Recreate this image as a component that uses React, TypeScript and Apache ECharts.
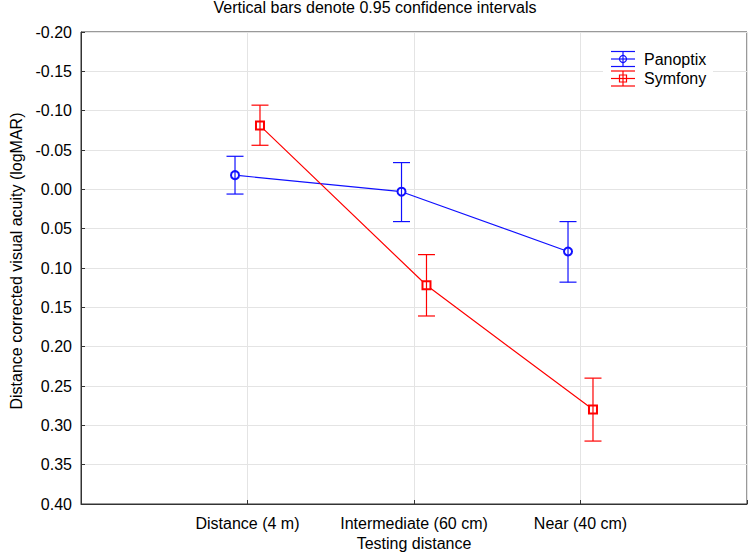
import React, { useEffect, useRef } from "react";
import * as echarts from "echarts";

const categories = ["Distance (4 m)", "Intermediate (60 cm)", "Near (40 cm)"];
const categoryPositions = [1, 2, 3];
const seriesNames = ["Panoptix", "Symfony"];
const panoptixMean = [-0.018, 0.003, 0.079];
const panoptixLow = [-0.042, -0.034, 0.041];
const panoptixHigh = [0.006, 0.041, 0.118];
const symfonyMean = [-0.081, 0.122, 0.28];
const symfonyLow = [-0.107, 0.083, 0.24];
const symfonyHigh = [-0.056, 0.161, 0.32];
const yTicks = { min: -0.2, max: 0.4, interval: 0.05 };

const BLUE = "#1010ff";
const RED = "#ff0000";
const FONT = "Liberation Sans, Arial, sans-serif";
const OFFSET = 0.075;
const CAP = 8.5;

function errorBarSeries(name: string, color: string, shift: number, low: number[], high: number[]) {
  return {
    name: name + " CI",
    type: "custom",
    z: 5,
    silent: true,
    data: categoryPositions.map((c, i) => [c + shift, low[i], high[i]]),
    renderItem: (params: any, api: any) => {
      const x = api.value(0);
      const a = api.coord([x, api.value(1)]);
      const b = api.coord([x, api.value(2)]);
      const style = { stroke: color, lineWidth: 1.2, fill: "none" };
      return {
        type: "group",
        children: [
          { type: "line", shape: { x1: a[0], y1: a[1], x2: b[0], y2: b[1] }, style },
          { type: "line", shape: { x1: a[0] - CAP, y1: a[1], x2: a[0] + CAP, y2: a[1] }, style },
          { type: "line", shape: { x1: b[0] - CAP, y1: b[1], x2: b[0] + CAP, y2: b[1] }, style },
        ],
      };
    },
  };
}

function legendItem(y: number, color: string, marker: "circle" | "rect", label: string) {
  const x1 = 611;
  const x2 = 635;
  const cx = 623;
  const st = { stroke: color, lineWidth: 1.2, fill: "none" };
  const z = 20;
  const children: any[] = [
    { type: "line", z, shape: { x1, y1: y - 7.5, x2, y2: y - 7.5 }, style: st },
    { type: "line", z, shape: { x1, y1: y, x2, y2: y }, style: st },
    { type: "line", z, shape: { x1, y1: y + 7.5, x2, y2: y + 7.5 }, style: st },
    { type: "line", z, shape: { x1: cx, y1: y - 7.5, x2: cx, y2: y + 7.5 }, style: st },
    marker === "circle"
      ? { type: "circle", z, shape: { cx, cy: y, r: 3.5 }, style: st }
      : { type: "rect", z, shape: { x: cx - 3.5, y: y - 3.5, width: 7, height: 7 }, style: st },
    {
      type: "text",
      z,
      style: { x: 644, y, text: label, font: `16px ${FONT}`, fill: "#000", verticalAlign: "middle" },
    },
  ];
  return children;
}

export default function App() {
  const ref = useRef<HTMLDivElement>(null);
  useEffect(() => {
    if (!ref.current) return;
    const chart = echarts.init(ref.current, undefined, { renderer: "svg" });
    const option: any = {
      animation: false,
      backgroundColor: "#fff",
      textStyle: { fontFamily: FONT },
      title: {
        text: "Vertical bars denote 0.95 confidence intervals",
        left: "center",
        top: -1,
        padding: 0,
        textStyle: { fontSize: 16, fontWeight: "normal", color: "#000", fontFamily: FONT },
      },
      grid: {
        left: 71,
        top: 32,
        right: 1,
        bottom: 55,
        show: true,
        borderColor: "#333",
        borderWidth: 1,
        containLabel: false,
      },
      xAxis: {
        type: "value",
        min: 0,
        max: 4,
        interval: 1,
        name: "Testing distance",
        nameLocation: "middle",
        nameGap: 28,
        nameTextStyle: { fontSize: 16, color: "#000", fontFamily: FONT },
        axisLine: { show: true, onZero: false, lineStyle: { color: "#333", width: 1 } },
        axisTick: { show: true, inside: true, length: 4, lineStyle: { color: "#333" } },
        axisLabel: {
          fontSize: 16,
          color: "#000",
          margin: 11,
          fontFamily: FONT,
          formatter: (v: number) => {
            const i = categoryPositions.indexOf(Math.round(v));
            return i >= 0 ? categories[i] : "";
          },
        },
        splitLine: { show: true, lineStyle: { color: "#e4e4e4", width: 1 } },
      },
      yAxis: {
        type: "value",
        inverse: true,
        min: yTicks.min,
        max: yTicks.max,
        interval: yTicks.interval,
        name: "Distance corrected visual acuity (logMAR)",
        nameLocation: "middle",
        nameGap: 57,
        nameTextStyle: { fontSize: 16, color: "#000", fontFamily: FONT, padding: [0, 0, 0, 14] },
        axisLine: { show: true, onZero: false, lineStyle: { color: "#333", width: 1 } },
        axisTick: { show: true, inside: true, length: 4, lineStyle: { color: "#333" } },
        axisLabel: {
          fontSize: 16,
          color: "#000",
          margin: 9,
          fontFamily: FONT,
          formatter: (v: number) => (Math.abs(v) < 1e-9 ? 0 : v).toFixed(2),
        },
        splitLine: { show: true, lineStyle: { color: "#e4e4e4", width: 1 } },
      },
      series: [
        {
          name: seriesNames[0],
          type: "line",
          z: 3,
          data: categoryPositions.map((c, i) => [c - OFFSET, panoptixMean[i]]),
          symbol: "emptyCircle",
          symbolSize: 8,
          lineStyle: { color: BLUE, width: 1.2 },
          itemStyle: { color: BLUE, borderWidth: 1.2 },
        },
        {
          name: seriesNames[1],
          type: "line",
          z: 3,
          data: categoryPositions.map((c, i) => [c + OFFSET, symfonyMean[i]]),
          symbol: "emptyRect",
          symbolSize: 8,
          lineStyle: { color: RED, width: 1.2 },
          itemStyle: { color: RED, borderWidth: 1.2 },
        },
        errorBarSeries(seriesNames[0], BLUE, -OFFSET, panoptixLow, panoptixHigh),
        errorBarSeries(seriesNames[1], RED, OFFSET, symfonyLow, symfonyHigh),
      ],
      graphic: [
        {
          type: "rect",
          z: 10,
          shape: { x: 603, y: 45, width: 110, height: 48 },
          style: { fill: "#fff" },
        },
        ...legendItem(59, BLUE, "circle", seriesNames[0]),
        ...legendItem(78.5, RED, "rect", seriesNames[1]),
      ],
    };
    chart.setOption(option);
    return () => chart.dispose();
  }, []);
  return (
    <div
      ref={ref}
      style={{ position: "fixed", left: 0, top: 0, width: 750, height: 559, background: "#fff" }}
    />
  );
}
